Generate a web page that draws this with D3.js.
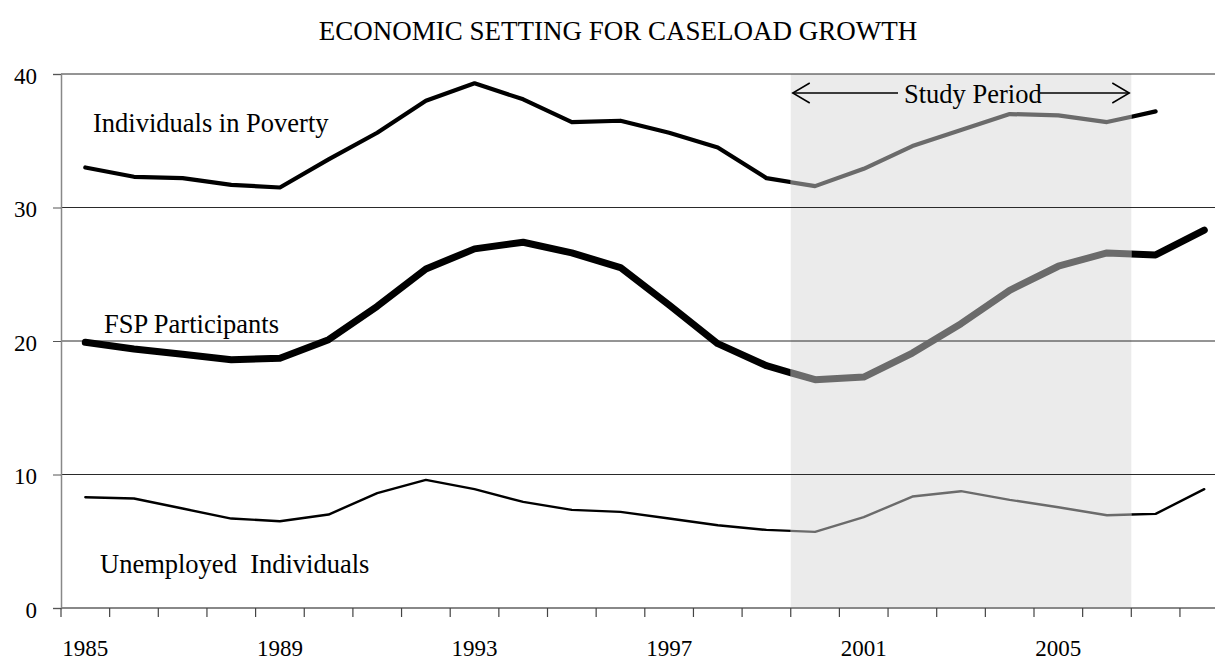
<!DOCTYPE html>
<html>
<head>
<meta charset="utf-8">
<script src="https://cdn.jsdelivr.net/npm/d3@7"></script>
<style>
  body { margin: 0; background: #fff; }
  svg { display: block; font-family: "Liberation Serif", "DejaVu Serif", serif; }
</style>
</head>
<body>
<svg id="chart" width="1215" height="660"></svg>
<script>
// values (millions)
const years = d3.range(1985, 2009);
const poverty = [33.0, 32.3, 32.2, 31.7, 31.5, 33.6, 35.6, 38.0, 39.3, 38.1, 36.4, 36.5, 35.6, 34.5,
  32.2, 31.6, 32.9, 34.6, 35.8, 37.0, 36.9, 36.4, 37.2];
const fsp = [19.9, 19.4, 19.0, 18.6, 18.7, 20.1, 22.6, 25.4, 26.9, 27.4, 26.6, 25.5, 22.7, 19.8,
  18.15, 17.1, 17.3, 19.1, 21.3, 23.8, 25.6, 26.6, 26.45, 28.3];
const unemployed = [8.3, 8.2, 7.45, 6.7, 6.5, 7.0, 8.6, 9.6, 8.9, 7.95, 7.35, 7.2, 6.7, 6.2,
  5.85, 5.7, 6.8, 8.35, 8.75, 8.1, 7.55, 6.95, 7.05, 8.9];
const yTicks = [0, 10, 20, 30, 40];
const yearLabels = [1985, 1989, 1993, 1997, 2001, 2005];
const studyStart = 2000, studyEnd = 2006;

const svg = d3.select('#chart');
const plotLeft = 61, plotTop = 74, plotBottom = 608;
const step = 48.65;

const x = d3.scaleBand()
  .domain(years)
  .range([plotLeft, plotLeft + step * years.length]);
const y = d3.scaleLinear()
  .domain([0, 40])
  .range([plotBottom, plotTop]);
const cx = d => x(d) + x.bandwidth() / 2;

// title
svg.append('text')
  .attr('x', 618).attr('y', 40)
  .attr('text-anchor', 'middle')
  .attr('font-size', 27)
  .text('ECONOMIC SETTING FOR CASELOAD GROWTH');

// study period shading
const shadeX0 = x(studyStart), shadeX1 = x(studyEnd) + x.bandwidth();
svg.append('rect')
  .attr('x', shadeX0).attr('y', plotTop)
  .attr('width', shadeX1 - shadeX0).attr('height', plotBottom - plotTop)
  .attr('fill', '#ebebeb');

const defs = svg.append('defs');
defs.append('clipPath').attr('id', 'study')
  .append('rect')
  .attr('x', shadeX0).attr('y', 0)
  .attr('width', shadeX1 - shadeX0).attr('height', 660);
const outside = defs.append('clipPath').attr('id', 'outside');
outside.append('rect').attr('x', 0).attr('y', 0).attr('width', shadeX0).attr('height', 660);
outside.append('rect').attr('x', shadeX1).attr('y', 0).attr('width', 1215 - shadeX1).attr('height', 660);

// gridlines
svg.append('g')
  .selectAll('line')
  .data(yTicks.filter(d => d > 0))
  .join('line')
  .attr('x1', plotLeft).attr('x2', 1215)
  .attr('y1', d => y(d)).attr('y2', d => y(d))
  .attr('stroke', '#2a2a2a')
  .attr('stroke-width', 1);

// y axis
const yAxis = svg.append('g')
  .attr('transform', `translate(${plotLeft},0)`)
  .call(d3.axisLeft(y).tickValues(yTicks).tickSize(8).tickPadding(16));
yAxis.select('.domain').attr('stroke', '#888').attr('stroke-width', 1.5);
yAxis.selectAll('.tick line').attr('stroke', '#555');
yAxis.selectAll('.tick text')
  .attr('font-family', '"Liberation Serif", serif')
  .attr('font-size', 23)
  .attr('fill', '#000')
  .attr('dy', '0.4em');

// x axis: ticks on category boundaries
const xAxis = svg.append('g');
xAxis.append('line')
  .attr('x1', plotLeft).attr('x2', 1215)
  .attr('y1', plotBottom).attr('y2', plotBottom)
  .attr('stroke', '#888').attr('stroke-width', 2);
xAxis.selectAll('line.tk')
  .data(years)
  .join('line')
  .attr('class', 'tk')
  .attr('x1', d => x(d)).attr('x2', d => x(d))
  .attr('y1', plotBottom).attr('y2', plotBottom + 9)
  .attr('stroke', '#444').attr('stroke-width', 1.2);
xAxis.selectAll('text')
  .data(yearLabels)
  .join('text')
  .attr('x', d => cx(d))
  .attr('y', 656)
  .attr('text-anchor', 'middle')
  .attr('font-size', 23)
  .text(d => d);

// series lines: black outside, grey inside the study period
const series = [
  { values: poverty, width: 4.2 },
  { values: fsp, width: 7 },
  { values: unemployed, width: 2.4 }
];
const line = d3.line()
  .x((d, i) => cx(years[i]))
  .y(d => y(d));

series.forEach(s => {
  svg.append('path')
    .attr('d', line(s.values))
    .attr('clip-path', 'url(#outside)')
    .attr('fill', 'none')
    .attr('stroke', '#000')
    .attr('stroke-width', s.width)
    .attr('stroke-linejoin', 'round')
    .attr('stroke-linecap', 'round');
  svg.append('path')
    .attr('d', line(s.values))
    .attr('clip-path', 'url(#study)')
    .attr('fill', 'none')
    .attr('stroke', '#6b6b6b')
    .attr('stroke-width', s.width)
    .attr('stroke-linejoin', 'round');
});

// series labels
const labels = [
  { text: 'Individuals in Poverty', x: 93, y: 132 },
  { text: 'FSP Participants', x: 104, y: 333 },
  { text: 'Unemployed  Individuals', x: 100, y: 573 }
];
svg.append('g')
  .selectAll('text')
  .data(labels)
  .join('text')
  .attr('x', d => d.x).attr('y', d => d.y)
  .attr('font-size', 26.5)
  .attr('xml:space', 'preserve')
  .style('white-space', 'pre')
  .text(d => d.text);

// study period arrow
const arrowY = 93;
const g = svg.append('g').attr('stroke', '#000').attr('stroke-width', 1.5).attr('fill', 'none');
g.append('line').attr('x1', shadeX0 + 2).attr('x2', 898).attr('y1', arrowY).attr('y2', arrowY);
g.append('line').attr('x1', 1040).attr('x2', shadeX1 - 2).attr('y1', arrowY).attr('y2', arrowY);
g.append('path').attr('d', `M${shadeX0 + 19},${arrowY - 10} L${shadeX0 + 2},${arrowY} L${shadeX0 + 19},${arrowY + 10}`);
g.append('path').attr('d', `M${shadeX1 - 19},${arrowY - 10} L${shadeX1 - 2},${arrowY} L${shadeX1 - 19},${arrowY + 10}`);
svg.append('text')
  .attr('x', 904).attr('y', 103)
  .attr('font-size', 26.5)
  .text('Study Period');
</script>
</body>
</html>
